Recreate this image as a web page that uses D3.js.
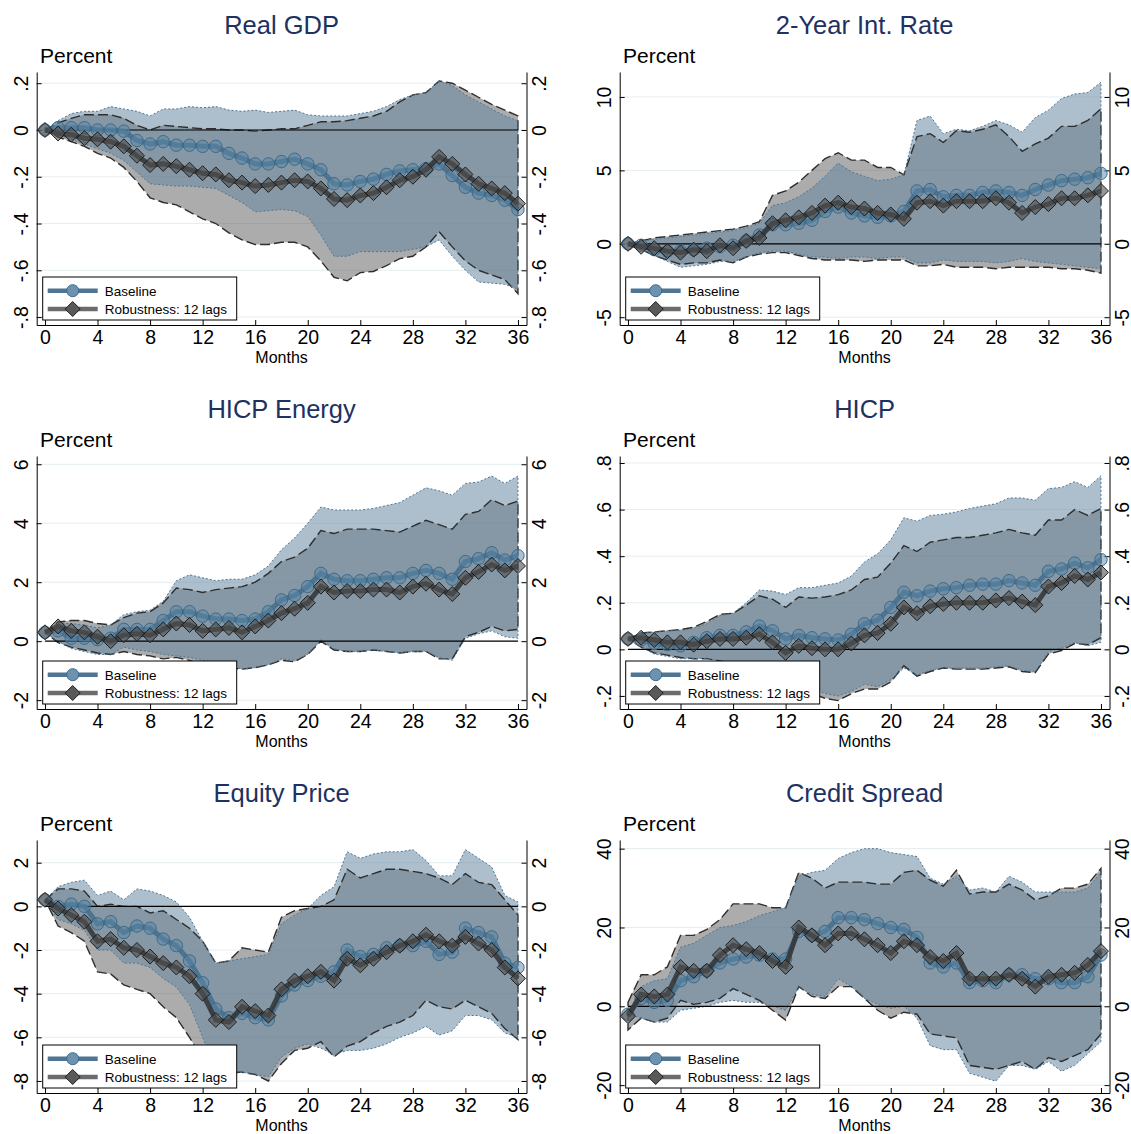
<!DOCTYPE html>
<html>
<head>
<meta charset="utf-8">
<script src="https://cdn.jsdelivr.net/npm/d3@7"></script>
<style>
    body { margin: 0; background: #fff; }
    svg { display: block; font-family: "Liberation Sans", Arial, Helvetica, sans-serif; }
</style>
</head>
<body>
<svg id="chart" width="1131" height="1134"></svg>
<script>
var months = d3.range(0, 37),
    xTicks = d3.range(0, 37, 4),
    seriesNames = ['Baseline', 'Robustness: 12 lags'];

// Real GDP
var gdpBase   = [0, 0.01, 0.01, 0.01, 0, 0, -0.005, -0.045, -0.06, -0.05, -0.065, -0.065, -0.07, -0.07, -0.1, -0.12, -0.145, -0.145, -0.135, -0.125, -0.145, -0.17, -0.23, -0.235, -0.22, -0.21, -0.19, -0.175, -0.17, -0.165, -0.145, -0.195, -0.245, -0.27, -0.28, -0.3, -0.34];
var gdpBaseLo = [0, -0.02, -0.04, -0.06, -0.08, -0.1, -0.13, -0.18, -0.23, -0.235, -0.24, -0.24, -0.245, -0.25, -0.28, -0.31, -0.35, -0.345, -0.34, -0.345, -0.37, -0.45, -0.54, -0.54, -0.52, -0.52, -0.52, -0.52, -0.51, -0.5, -0.47, -0.54, -0.6, -0.65, -0.655, -0.66, -0.68];
var gdpBaseHi = [0, 0.04, 0.07, 0.08, 0.08, 0.1, 0.09, 0.08, 0.06, 0.09, 0.09, 0.1, 0.095, 0.1, 0.085, 0.08, 0.085, 0.075, 0.08, 0.085, 0.065, 0.06, 0.06, 0.06, 0.07, 0.08, 0.1, 0.13, 0.15, 0.16, 0.21, 0.19, 0.15, 0.12, 0.09, 0.06, 0.04];
var gdpRob    = [0, -0.015, -0.02, -0.035, -0.04, -0.05, -0.07, -0.11, -0.15, -0.145, -0.155, -0.17, -0.185, -0.19, -0.215, -0.225, -0.24, -0.235, -0.225, -0.215, -0.22, -0.25, -0.295, -0.3, -0.28, -0.27, -0.245, -0.215, -0.2, -0.17, -0.115, -0.145, -0.19, -0.23, -0.25, -0.27, -0.315];
var gdpRobLo  = [0, -0.03, -0.05, -0.07, -0.1, -0.12, -0.16, -0.22, -0.29, -0.31, -0.32, -0.35, -0.38, -0.4, -0.44, -0.47, -0.49, -0.49, -0.48, -0.48, -0.5, -0.56, -0.63, -0.645, -0.61, -0.605, -0.58, -0.55, -0.54, -0.5, -0.435, -0.5, -0.56, -0.6, -0.62, -0.64, -0.7];
var gdpRobHi  = [0, 0.03, 0.05, 0.065, 0.065, 0.065, 0.05, 0.02, 0, 0.02, 0.015, 0.01, 0.005, 0.005, 0, 0, -0.005, 0, 0.005, 0.005, 0.02, 0.035, 0.035, 0.04, 0.05, 0.06, 0.08, 0.12, 0.15, 0.16, 0.21, 0.2, 0.17, 0.14, 0.11, 0.085, 0.06];

// 2-Year interest rate
var rateBase   = [0, -0.1, -0.4, -0.5, -0.5, -0.4, -0.3, -0.2, -0.1, 0.2, 0.6, 1.3, 1.3, 1.4, 1.6, 2.2, 2.5, 2.1, 1.9, 1.8, 1.9, 2.2, 3.6, 3.7, 3.2, 3.3, 3.3, 3.5, 3.6, 3.5, 3.3, 3.7, 4.0, 4.3, 4.4, 4.5, 4.8];
var rateBaseLo = [0, -0.4, -0.8, -1.2, -1.6, -1.5, -1.4, -1.2, -1.2, -0.9, -0.6, -0.5, -0.5, -0.7, -0.9, -0.9, -1.0, -0.9, -0.9, -1.0, -0.9, -0.9, -1.3, -1.3, -1.1, -1.2, -1.2, -1.2, -1.3, -1.2, -1.0, -1.2, -1.3, -1.4, -1.5, -1.6, -1.7];
var rateBaseHi = [0, 0.2, 0.3, 0.4, 0.5, 0.6, 0.7, 0.8, 0.9, 1.1, 1.4, 2.6, 2.8, 3.2, 3.8, 4.6, 5.5, 4.9, 4.6, 4.3, 4.4, 4.7, 8.4, 8.7, 7.5, 7.8, 7.7, 8.0, 8.4, 8.1, 7.6, 8.6, 9.1, 9.9, 10.2, 10.3, 11.0];
var rateRob    = [0, -0.2, -0.3, -0.5, -0.6, -0.4, -0.5, -0.1, -0.3, 0.2, 0.4, 1.4, 1.6, 1.8, 2.1, 2.6, 2.8, 2.5, 2.4, 2.1, 2.0, 1.7, 2.8, 2.9, 2.6, 2.9, 2.9, 2.9, 3.1, 2.8, 2.1, 2.5, 2.7, 3.1, 3.1, 3.3, 3.6];
var rateRobLo  = [0, -0.4, -0.8, -1.1, -1.4, -1.3, -1.3, -1.1, -1.3, -0.9, -0.7, -0.6, -0.6, -0.8, -1.0, -1.1, -1.1, -1.1, -1.2, -1.1, -1.1, -1.1, -1.5, -1.5, -1.4, -1.6, -1.6, -1.6, -1.7, -1.6, -1.6, -1.6, -1.6, -1.7, -1.7, -1.8, -2.0];
var rateRobHi  = [0, 0.2, 0.4, 0.5, 0.6, 0.7, 0.8, 0.9, 1.0, 1.2, 1.5, 3.3, 3.6, 4.2, 5.0, 5.8, 6.2, 5.7, 5.7, 5.2, 5.2, 4.7, 7.3, 7.5, 6.9, 7.7, 7.6, 7.8, 8.1, 7.3, 6.3, 6.8, 7.2, 8.0, 8.0, 8.4, 9.2];

// HICP energy
var enBase   = [0.3, 0.35, 0.1, 0.1, 0.05, 0.1, 0.4, 0.4, 0.4, 0.7, 1.0, 1.0, 0.85, 0.75, 0.75, 0.7, 0.75, 1.0, 1.4, 1.55, 1.85, 2.3, 2.1, 2.05, 2.05, 2.1, 2.15, 2.15, 2.3, 2.4, 2.3, 2.1, 2.7, 2.8, 3.0, 2.75, 2.9];
var enBaseLo = [0.3, 0.0, -0.25, -0.35, -0.45, -0.45, -0.2, -0.3, -0.35, -0.45, -0.5, -0.55, -0.65, -0.75, -0.8, -0.95, -0.9, -0.8, -0.6, -0.65, -0.45, 0.05, -0.25, -0.35, -0.35, -0.3, -0.35, -0.4, -0.35, -0.35, -0.55, -0.65, 0.1, 0.25, 0.35, 0.15, 0.1];
var enBaseHi = [0.3, 0.6, 0.6, 0.55, 0.45, 0.55, 0.9, 1.0, 1.05, 1.35, 2.05, 2.25, 2.15, 2.05, 2.1, 2.1, 2.25, 2.55, 3.1, 3.5, 4.0, 4.55, 4.45, 4.45, 4.45, 4.5, 4.6, 4.7, 4.95, 5.2, 5.1, 4.95, 5.35, 5.4, 5.6, 5.35, 5.6];
var enRob    = [0.3, 0.5, 0.35, 0.3, 0.15, 0.0, 0.2, 0.25, 0.2, 0.4, 0.6, 0.55, 0.35, 0.4, 0.45, 0.3, 0.5, 0.7, 0.95, 1.1, 1.3, 1.85, 1.65, 1.7, 1.7, 1.75, 1.75, 1.65, 1.85, 1.95, 1.75, 1.6, 2.15, 2.35, 2.6, 2.4, 2.55];
var enRobLo  = [0.3, -0.05, -0.2, -0.3, -0.4, -0.45, -0.35, -0.45, -0.5, -0.6, -0.55, -0.65, -0.8, -0.85, -0.9, -0.95, -0.9, -0.8, -0.65, -0.7, -0.45, 0.0, -0.3, -0.35, -0.35, -0.3, -0.35, -0.4, -0.35, -0.35, -0.6, -0.6, 0.15, 0.3, 0.5, 0.35, 0.4];
var enRobHi  = [0.3, 0.65, 0.7, 0.7, 0.6, 0.55, 0.8, 0.95, 1.0, 1.3, 1.8, 1.75, 1.65, 1.75, 1.8, 1.85, 2.0, 2.3, 2.7, 2.85, 3.15, 3.75, 3.65, 3.8, 3.8, 3.8, 3.75, 3.7, 3.9, 4.1, 3.95, 3.8, 4.3, 4.4, 4.8, 4.6, 4.75];

// HICP
var hicpBase   = [0.045, 0.04, 0.025, 0.02, 0.015, 0.03, 0.05, 0.06, 0.06, 0.075, 0.1, 0.08, 0.045, 0.06, 0.05, 0.045, 0.04, 0.065, 0.11, 0.125, 0.18, 0.245, 0.23, 0.25, 0.26, 0.265, 0.275, 0.28, 0.28, 0.295, 0.285, 0.275, 0.335, 0.345, 0.37, 0.35, 0.385];
var hicpBaseLo = [0.045, 0.01, -0.02, -0.03, -0.04, -0.04, -0.04, -0.05, -0.06, -0.08, -0.09, -0.11, -0.17, -0.15, -0.17, -0.19, -0.2, -0.18, -0.15, -0.16, -0.13, -0.08, -0.11, -0.09, -0.08, -0.08, -0.08, -0.08, -0.075, -0.07, -0.09, -0.095, -0.01, 0.005, 0.03, 0.015, 0.03];
var hicpBaseHi = [0.045, 0.07, 0.075, 0.08, 0.08, 0.09, 0.11, 0.145, 0.155, 0.2, 0.255, 0.25, 0.235, 0.265, 0.265, 0.275, 0.285, 0.315, 0.375, 0.41, 0.47, 0.565, 0.55, 0.575, 0.58, 0.59, 0.605, 0.615, 0.625, 0.65, 0.65, 0.64, 0.69, 0.695, 0.72, 0.695, 0.745];
var hicpRob    = [0.045, 0.05, 0.04, 0.03, 0.03, 0.02, 0.035, 0.045, 0.045, 0.05, 0.065, 0.03, -0.015, 0.015, 0.005, 0, 0, 0.025, 0.06, 0.07, 0.11, 0.18, 0.155, 0.185, 0.195, 0.2, 0.2, 0.2, 0.21, 0.22, 0.205, 0.19, 0.27, 0.285, 0.315, 0.3, 0.33];
var hicpRobLo  = [0.045, 0.01, -0.015, -0.025, -0.035, -0.04, -0.04, -0.05, -0.06, -0.08, -0.1, -0.12, -0.19, -0.17, -0.19, -0.21, -0.22, -0.19, -0.17, -0.17, -0.14, -0.07, -0.115, -0.095, -0.08, -0.085, -0.085, -0.085, -0.08, -0.075, -0.095, -0.1, -0.02, -0.005, 0.025, 0.02, 0.05];
var hicpRobHi  = [0.045, 0.07, 0.075, 0.08, 0.085, 0.095, 0.12, 0.15, 0.155, 0.19, 0.23, 0.215, 0.18, 0.225, 0.22, 0.225, 0.235, 0.255, 0.3, 0.31, 0.37, 0.445, 0.42, 0.46, 0.47, 0.48, 0.48, 0.49, 0.5, 0.515, 0.5, 0.49, 0.555, 0.555, 0.6, 0.575, 0.605];

// Equity price
var eqBase   = [0.3, 0.0, 0.1, 0.0, -0.8, -0.7, -1.2, -0.9, -1.0, -1.5, -1.8, -2.5, -3.5, -4.7, -5.1, -4.9, -5.1, -5.2, -4.1, -3.6, -3.4, -3.2, -3.0, -2.0, -2.3, -2.2, -1.9, -1.8, -1.8, -1.6, -2.2, -2.1, -1.0, -1.2, -1.4, -2.6, -2.8];
var eqBaseLo = [0.3, -0.6, -0.8, -1.1, -2.0, -2.0, -2.6, -2.6, -2.8, -3.3, -3.7, -4.5, -6.0, -7.5, -7.7, -7.6, -7.7, -7.8, -6.9, -6.5, -6.3, -6.5, -6.8, -6.6, -6.6, -6.5, -6.3, -6.0, -5.8, -5.5, -5.9, -5.7, -5.0, -5.0, -5.2, -5.8, -6.0];
var eqBaseHi = [0.3, 0.9, 1.1, 1.2, 0.5, 0.7, 0.3, 0.8, 0.7, 0.5, 0.2, -0.5, -1.6, -2.6, -2.5, -2.4, -2.3, -2.2, -0.8, -0.4, -0.1, 0.5, 0.9, 2.5, 2.2, 2.4, 2.5, 2.5, 2.6, 2.1, 1.4, 1.4, 2.6, 2.2, 1.8, 0.5, 0.2];
var eqRob    = [0.3, -0.1, -0.4, -0.7, -1.6, -1.5, -1.9, -2.0, -2.3, -2.6, -2.8, -3.2, -4.0, -5.2, -5.3, -4.6, -4.8, -5.0, -3.8, -3.4, -3.2, -3.0, -3.4, -2.4, -2.7, -2.4, -2.1, -1.8, -1.6, -1.3, -1.6, -1.8, -1.4, -1.7, -2.0, -2.8, -3.3];
var eqRobLo  = [0.3, -0.9, -1.2, -1.6, -3.0, -3.1, -3.6, -3.8, -4.0, -4.6, -5.1, -6.0, -7.0, -7.7, -7.6, -7.6, -7.7, -8.0, -7.2, -6.6, -6.5, -6.2, -6.9, -6.4, -6.2, -5.8, -5.5, -5.3, -5.0, -4.3, -4.6, -4.7, -4.3, -4.6, -4.9, -5.6, -6.1];
var eqRobHi  = [0.3, 0.8, 0.8, 0.7, 0.0, 0.1, 0.0, 0.0, -0.3, -0.2, -0.6, -1.0, -1.6, -2.6, -2.5, -1.9, -2.0, -2.1, -0.5, -0.2, -0.1, 0.0, 0.3, 1.7, 1.3, 1.5, 1.7, 1.7, 1.6, 1.5, 1.3, 1.0, 1.5, 1.1, 1.0, 0.3, -0.4];

// Credit spread
var crBase   = [-2, 2, 1, 1.5, 6.5, 7.5, 9, 11, 12, 12.5, 13, 12, 12, 19, 18, 19, 22.5, 22.5, 22, 21, 20, 19.5, 17.5, 11, 10, 11, 6, 6.5, 6, 8, 8, 7, 7, 6, 6, 7.5, 13];
var crBaseLo = [-2, -3, -4, -4, -1, -0.5, 0, 1, 1.5, 1, 1, 0, -1, 5, 3, 2.5, 7, 5, 2, 0.5, -0.5, 0, -3, -10, -11, -11, -17, -18, -19, -15, -15, -16, -14, -16.5, -15, -12, -9];
var crBaseHi = [-2, 5, 6.5, 7, 15, 16, 18, 20, 20.5, 21.5, 23, 24, 25, 33, 34, 34.5, 37.5, 39, 40, 40, 39, 38.5, 38, 32.5, 31, 33, 29.5, 30, 29, 33, 31.5, 29, 29, 29, 29, 30, 34];
var crRob    = [-2.5, 3, 2.5, 3, 10, 9, 9, 13, 15.5, 14.5, 13.5, 11.5, 10, 20, 18, 15.5, 18.5, 18.5, 17, 15.5, 13.5, 16.5, 15.5, 12.5, 11.5, 13.5, 7, 7, 7, 8, 7, 5, 7.5, 8, 8.5, 10.5, 14];
var crRobLo  = [-6, -3, -4, -3, 1.5, 0.5, 1, 2, 4.5, 3, 1.5, -1, -3.5, 5, 2.5, 2, 5, 5, 2, -1, -3, -1.5, -2, -7, -7.5, -8, -15, -15.5, -16, -15, -14, -16, -13, -14, -12.5, -11, -7];
var crRobHi  = [1, 8, 8, 10, 18, 18, 19.5, 22, 26, 26, 26, 25, 25, 34, 32.5, 30, 31.5, 31.5, 31.5, 31, 31, 34, 34.5, 32, 30.5, 34.5, 28.5, 29, 29, 31, 29.5, 27, 28, 30, 30, 31, 35];

var panels = [
    {title: 'Real GDP', base: gdpBase, baseLo: gdpBaseLo, baseHi: gdpBaseHi, rob: gdpRob, robLo: gdpRobLo, robHi: gdpRobHi,
        yDomain: [-0.834, 0.248], yTicks: [-0.8, -0.6, -0.4, -0.2, 0, 0.2]},
    {title: '2-Year Int. Rate', base: rateBase, baseLo: rateBaseLo, baseHi: rateBaseHi, rob: rateRob, robLo: rateRobLo, robHi: rateRobHi,
        yDomain: [-5.53, 11.7], yTicks: [-5, 0, 5, 10]},
    {title: 'HICP Energy', base: enBase, baseLo: enBaseLo, baseHi: enBaseHi, rob: enRob, robLo: enRobLo, robHi: enRobHi,
        yDomain: [-2.3, 6.28], yTicks: [-2, 0, 2, 4, 6]},
    {title: 'HICP', base: hicpBase, baseLo: hicpBaseLo, baseHi: hicpBaseHi, rob: hicpRob, robLo: hicpRobLo, robHi: hicpRobHi,
        yDomain: [-0.256, 0.83], yTicks: [-0.2, 0, 0.2, 0.4, 0.6, 0.8]},
    {title: 'Equity Price', base: eqBase, baseLo: eqBaseLo, baseHi: eqBaseHi, rob: eqRob, robLo: eqRobLo, robHi: eqRobHi,
        yDomain: [-8.55, 3.04], yTicks: [-8, -6, -4, -2, 0, 2]},
    {title: 'Credit Spread', base: crBase, baseLo: crBaseLo, baseHi: crBaseHi, rob: crRob, robLo: crRobLo, robHi: crRobHi,
        yDomain: [-22, 42.2], yTicks: [-20, 0, 20, 40]}
];

var COL_X = [0, 583],
    ROW_Y = [0, 384, 768];

var PLOT_L = 36.7,
    PLOT_R = 526.5,
    PLOT_T = 72,
    PLOT_B = 325;

var BLUE_LINE = '#46708f',
    GREY_LINE = '#333333',
    BAND_BLUE = '#64869e',
    BAND_GREY = '#5a5a5a',
    TITLE_COL = '#1e3160';

var svg = d3.select('#chart');

svg.append('rect')
    .attr('width', 1131)
    .attr('height', 1134)
    .attr('fill', '#fff');

function fmtTick(v) {
    var s = String(Math.round(v * 100) / 100);
    return s.replace(/^(-?)0\./, '$1.');
}

function diamond(s) {
    return 'M0,' + (-s) + 'L' + s + ',0L0,' + s + 'L' + (-s) + ',0Z';
}

function drawPanel(p, i) {
    var g = svg.append('g')
        .attr('transform', 'translate(' + COL_X[i % 2] + ',' + ROW_Y[Math.floor(i / 2)] + ')');

    var x = d3.scaleLinear().domain([-0.63, 36.65]).range([PLOT_L, PLOT_R]),
        y = d3.scaleLinear().domain(p.yDomain).range([PLOT_B, PLOT_T]);

    //titles
    g.append('text')
        .attr('x', (PLOT_L + PLOT_R) / 2)
        .attr('y', 34)
        .attr('text-anchor', 'middle')
        .attr('font-size', 25.5)
        .attr('fill', TITLE_COL)
        .text(p.title);

    g.append('text')
        .attr('x', 40)
        .attr('y', 63)
        .attr('font-size', 21)
        .attr('fill', '#000')
        .text('Percent');

    //grid
    g.selectAll('.grid')
        .data(p.yTicks)
        .enter().append('line')
        .attr('x1', PLOT_L)
        .attr('x2', PLOT_R)
        .attr('y1', function (d) { return y(d); })
        .attr('y2', function (d) { return y(d); })
        .attr('stroke', '#e4edf0')
        .attr('stroke-width', 1);

    var area = function (lo, hi) {
        return d3.area()
            .x(function (d, j) { return x(months[j]); })
            .y0(function (d, j) { return y(lo[j]); })
            .y1(function (d, j) { return y(hi[j]); })(months);
    };
    var outline = function (lo, hi) {
        var pts = months.map(function (m, j) { return [x(m), y(hi[j])]; })
            .concat(months.slice().reverse().map(function (m) { return [x(m), y(lo[m])]; }));
        return d3.line()(pts) + 'Z';
    };

    //bands
    g.append('path')
        .attr('d', area(p.robLo, p.robHi))
        .attr('fill', BAND_GREY)
        .attr('fill-opacity', 0.5);
    g.append('path')
        .attr('d', area(p.baseLo, p.baseHi))
        .attr('fill', BAND_BLUE)
        .attr('fill-opacity', 0.53);
    g.append('path')
        .attr('d', outline(p.robLo, p.robHi))
        .attr('fill', 'none')
        .attr('stroke', '#2e2e2e')
        .attr('stroke-width', 1.4)
        .attr('stroke-dasharray', '10,4');
    g.append('path')
        .attr('d', outline(p.baseLo, p.baseHi))
        .attr('fill', 'none')
        .attr('stroke', '#4f7694')
        .attr('stroke-width', 1)
        .attr('stroke-dasharray', '2,2');

    //zero line
    g.append('line')
        .attr('x1', x(0))
        .attr('x2', x(36))
        .attr('y1', y(0))
        .attr('y2', y(0))
        .attr('stroke', '#000')
        .attr('stroke-width', 1.2);

    //axes
    var yl = g.append('g')
        .attr('transform', 'translate(' + PLOT_L + ',0)')
        .call(d3.axisLeft(y).tickValues(p.yTicks).tickFormat(fmtTick).tickSizeInner(-5).tickSizeOuter(0));
    yl.selectAll('text')
        .attr('transform', 'rotate(-90)')
        .attr('x', 0)
        .attr('y', -9)
        .attr('dy', 0)
        .attr('text-anchor', 'middle');

    var yr = g.append('g')
        .attr('transform', 'translate(' + PLOT_R + ',0)')
        .call(d3.axisRight(y).tickValues(p.yTicks).tickFormat(fmtTick).tickSizeInner(-5).tickSizeOuter(0));
    yr.selectAll('text')
        .attr('transform', 'rotate(-90)')
        .attr('x', 0)
        .attr('y', 19)
        .attr('dy', 0)
        .attr('text-anchor', 'middle');

    var xa = g.append('g')
        .attr('transform', 'translate(0,' + PLOT_B + ')')
        .call(d3.axisBottom(x).tickValues(xTicks).tickSizeInner(-5).tickSizeOuter(0));
    xa.selectAll('text')
        .attr('y', 18.5)
        .attr('dy', 0);

    g.selectAll('.domain')
        .attr('stroke', '#000');
    g.selectAll('.tick line')
        .attr('stroke', '#000');
    g.selectAll('.tick text')
        .attr('font-size', 19.5)
        .attr('font-family', '"Liberation Sans", Arial, Helvetica, sans-serif')
        .attr('fill', '#000');

    g.append('text')
        .attr('x', (PLOT_L + PLOT_R) / 2)
        .attr('y', 363)
        .attr('text-anchor', 'middle')
        .attr('font-size', 16)
        .text('Months');

    //lines and markers
    var line = d3.line()
        .x(function (d, j) { return x(months[j]); })
        .y(function (d) { return y(d); });

    g.append('path')
        .attr('d', line(p.base))
        .attr('fill', 'none')
        .attr('stroke', BLUE_LINE)
        .attr('stroke-opacity', 0.9)
        .attr('stroke-width', 5);
    g.selectAll('.circ')
        .data(p.base)
        .enter().append('circle')
        .attr('cx', function (d, j) { return x(months[j]); })
        .attr('cy', function (d) { return y(d); })
        .attr('r', 6.2)
        .attr('fill', '#5a86a6')
        .attr('fill-opacity', 0.5)
        .attr('stroke', '#3e6a8a')
        .attr('stroke-width', 1);

    g.append('path')
        .attr('d', line(p.rob))
        .attr('fill', 'none')
        .attr('stroke', GREY_LINE)
        .attr('stroke-opacity', 0.85)
        .attr('stroke-width', 5);
    g.selectAll('.diam')
        .data(p.rob)
        .enter().append('path')
        .attr('d', diamond(7.5))
        .attr('transform', function (d, j) { return 'translate(' + x(months[j]) + ',' + y(d) + ')'; })
        .attr('fill', '#505050')
        .attr('fill-opacity', 0.6)
        .attr('stroke', '#1e1e1e')
        .attr('stroke-width', 1);

    //legend
    var lg = g.append('g')
        .attr('transform', 'translate(' + (PLOT_L + 6) + ',' + (PLOT_B - 48) + ')');
    lg.append('rect')
        .attr('width', 194)
        .attr('height', 43)
        .attr('fill', '#fff')
        .attr('stroke', '#000')
        .attr('stroke-width', 1);

    var rows = [
        {name: seriesNames[0], y: 13.7, col: '#4f7593'},
        {name: seriesNames[1], y: 32, col: '#6b6b6b'}
    ];
    rows.forEach(function (r, k) {
        lg.append('line')
            .attr('x1', 5)
            .attr('x2', 55)
            .attr('y1', r.y)
            .attr('y2', r.y)
            .attr('stroke', r.col)
            .attr('stroke-width', 4.5);
        if (k === 0) {
            lg.append('circle')
                .attr('cx', 30)
                .attr('cy', r.y)
                .attr('r', 6)
                .attr('fill', '#6d92ae')
                .attr('stroke', '#3e6a8a')
                .attr('stroke-width', 1);
        } else {
            lg.append('path')
                .attr('d', diamond(7.5))
                .attr('transform', 'translate(30,' + r.y + ')')
                .attr('fill', '#595959')
                .attr('stroke', '#1e1e1e')
                .attr('stroke-width', 1);
        }
        lg.append('text')
            .attr('x', 62)
            .attr('y', r.y + 5)
            .attr('font-size', 13.5)
            .attr('fill', '#000')
            .text(r.name);
    });
}

panels.forEach(drawPanel);
</script>
</body>
</html>
